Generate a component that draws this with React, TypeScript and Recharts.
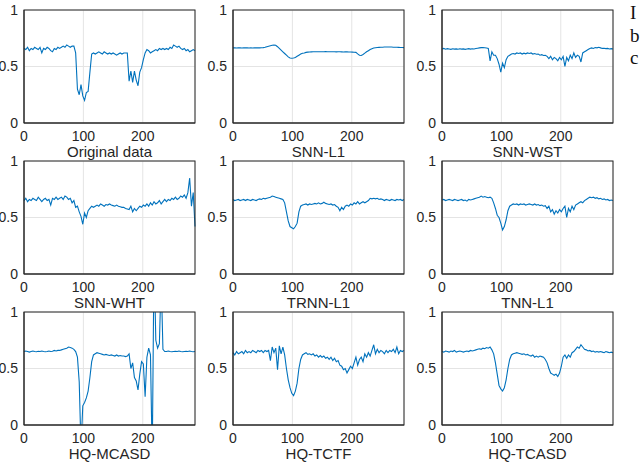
import { LineChart, Line, XAxis, YAxis, CartesianGrid } from 'recharts'

// sample index (every 3rd of 288 samples)
const X = [
  0, 3, 6, 9, 12, 15, 18, 21, 24, 27, 30, 33, 36, 39, 42, 45, 48, 51, 54, 57,
  60, 63, 66, 69, 72, 75, 78, 81, 84, 87, 90, 93, 96, 99, 102, 105, 108, 111, 114, 117,
  120, 123, 126, 129, 132, 135, 138, 141, 144, 147, 150, 153, 156, 159, 162, 165, 168, 171, 174, 177,
  180, 183, 186, 189, 192, 195, 198, 201, 204, 207, 210, 213, 216, 219, 222, 225, 228, 231, 234, 237,
  240, 243, 246, 249, 252, 255, 258, 261, 264, 267, 270, 273, 276, 279, 282, 285, 288,
]

const ORIGINAL = [
  0.66, 0.65, 0.67, 0.64, 0.66, 0.65, 0.67, 0.66, 0.65, 0.67,
  0.62, 0.66, 0.65, 0.67, 0.66, 0.64, 0.63, 0.66, 0.65, 0.67,
  0.66, 0.67, 0.68, 0.67, 0.69, 0.68, 0.67, 0.68, 0.68, 0.62,
  0.3, 0.25, 0.34, 0.24, 0.2, 0.27, 0.28, 0.45, 0.61, 0.62,
  0.61, 0.62, 0.63, 0.62, 0.61, 0.63, 0.62, 0.61, 0.62, 0.61,
  0.62, 0.61, 0.6, 0.61, 0.62, 0.61, 0.62, 0.62, 0.62, 0.37,
  0.46, 0.36, 0.46, 0.38, 0.33, 0.45, 0.49, 0.56, 0.62, 0.65,
  0.64, 0.62, 0.63, 0.64, 0.65, 0.64, 0.66, 0.65, 0.66, 0.65,
  0.66, 0.65, 0.67, 0.66, 0.69, 0.68, 0.67, 0.68, 0.66, 0.65,
  0.66, 0.64, 0.65, 0.63, 0.64, 0.65, 0.64,
]

const SNN_L1 = [
  0.665, 0.666, 0.664, 0.665, 0.665, 0.664, 0.665, 0.666, 0.665, 0.664,
  0.665, 0.664, 0.665, 0.665, 0.666, 0.665, 0.666, 0.667, 0.67, 0.675,
  0.68, 0.684, 0.688, 0.69, 0.688, 0.675, 0.66, 0.645, 0.63, 0.615,
  0.6, 0.585, 0.575, 0.573, 0.575, 0.58, 0.59, 0.6, 0.61, 0.617,
  0.62, 0.625, 0.627, 0.628, 0.629, 0.63, 0.63, 0.631, 0.63, 0.631,
  0.63, 0.631, 0.632, 0.631, 0.63, 0.631, 0.63, 0.63, 0.629, 0.63,
  0.63, 0.629, 0.628, 0.63, 0.629, 0.628, 0.628, 0.627, 0.626, 0.625,
  0.612, 0.6, 0.598, 0.606, 0.618, 0.63, 0.64, 0.65, 0.658, 0.663,
  0.666, 0.668, 0.669, 0.67, 0.671, 0.672, 0.672, 0.673, 0.672, 0.672,
  0.671, 0.67, 0.67, 0.669, 0.668, 0.668, 0.667,
]

const SNN_WST = [
  0.655, 0.66, 0.653, 0.658, 0.655, 0.652, 0.657, 0.654, 0.656, 0.653,
  0.657, 0.654, 0.656, 0.652, 0.655, 0.658, 0.654, 0.657, 0.655, 0.659,
  0.662, 0.665, 0.667, 0.668, 0.666, 0.664, 0.66, 0.55, 0.63, 0.6,
  0.6, 0.57, 0.52, 0.45, 0.53, 0.49, 0.56, 0.59, 0.6, 0.61,
  0.615, 0.61, 0.62, 0.615, 0.62, 0.61, 0.618, 0.612, 0.62, 0.615,
  0.62, 0.61, 0.615, 0.608, 0.61, 0.6, 0.605, 0.598, 0.6, 0.59,
  0.57, 0.59, 0.56, 0.58, 0.57, 0.55, 0.58, 0.56, 0.59, 0.5,
  0.58, 0.55, 0.6, 0.57, 0.62, 0.58, 0.6, 0.59, 0.54, 0.62,
  0.63, 0.64, 0.65, 0.66, 0.665, 0.66, 0.668, 0.665, 0.67, 0.665,
  0.66, 0.662, 0.658, 0.66, 0.655, 0.658, 0.655,
]

const SNN_WHT = [
  0.65, 0.67, 0.64, 0.66, 0.65, 0.67, 0.66, 0.65, 0.68, 0.66,
  0.64, 0.66, 0.67, 0.65, 0.66, 0.61, 0.67, 0.66, 0.68, 0.66,
  0.67, 0.68, 0.66, 0.69, 0.68, 0.66, 0.67, 0.63, 0.65, 0.59,
  0.6, 0.55, 0.51, 0.44, 0.54, 0.5, 0.56, 0.58, 0.6, 0.59,
  0.6, 0.61, 0.6, 0.62, 0.61, 0.6, 0.615, 0.61, 0.62, 0.61,
  0.605, 0.6, 0.61, 0.6, 0.595, 0.59, 0.59, 0.58, 0.575, 0.57,
  0.6, 0.55, 0.58, 0.56, 0.58, 0.6, 0.59, 0.61, 0.6, 0.62,
  0.6, 0.63, 0.61, 0.64, 0.62, 0.63, 0.65, 0.62, 0.64, 0.66,
  0.64, 0.66, 0.65, 0.67, 0.66, 0.68, 0.66, 0.67, 0.69, 0.68,
  0.7, 0.67, 0.72, 0.85, 0.6, 0.72, 0.42,
]

const TRNN_L1 = [
  0.66, 0.65, 0.655, 0.66, 0.65, 0.655, 0.66, 0.65, 0.66, 0.655,
  0.65, 0.66, 0.655, 0.65, 0.66, 0.665, 0.66, 0.67, 0.665, 0.67,
  0.675, 0.68, 0.69, 0.685, 0.68, 0.675, 0.67, 0.665, 0.66, 0.63,
  0.55, 0.47, 0.42, 0.41, 0.4, 0.42, 0.45, 0.55, 0.6, 0.61,
  0.615, 0.62, 0.61, 0.62, 0.615, 0.62, 0.625, 0.62, 0.63, 0.62,
  0.625, 0.635, 0.625, 0.62, 0.615, 0.62, 0.61, 0.615, 0.6, 0.59,
  0.56, 0.59, 0.57, 0.6, 0.61, 0.6, 0.62, 0.61, 0.63, 0.62,
  0.64, 0.62, 0.63, 0.64, 0.63, 0.64, 0.65, 0.67, 0.665, 0.67,
  0.665, 0.67, 0.66, 0.665, 0.66, 0.65, 0.66, 0.655, 0.65, 0.66,
  0.655, 0.65, 0.66, 0.655, 0.66, 0.65, 0.66,
]

const TNN_L1 = [
  0.655, 0.66, 0.65, 0.655, 0.66, 0.655, 0.65, 0.66, 0.655, 0.65,
  0.655, 0.66, 0.65, 0.655, 0.645, 0.66, 0.655, 0.66, 0.665, 0.67,
  0.675, 0.68, 0.69, 0.68, 0.685, 0.68, 0.675, 0.68, 0.67, 0.63,
  0.58, 0.52, 0.5, 0.45, 0.39, 0.42, 0.48, 0.56, 0.6, 0.61,
  0.62, 0.615, 0.62, 0.61, 0.62, 0.615, 0.62, 0.61, 0.615, 0.62,
  0.615, 0.61, 0.62, 0.61, 0.615, 0.605, 0.61, 0.6, 0.605, 0.58,
  0.6, 0.55, 0.57, 0.53, 0.56, 0.54, 0.57, 0.55, 0.58, 0.6,
  0.5, 0.58, 0.55, 0.6, 0.57, 0.61, 0.62, 0.63, 0.64, 0.63,
  0.65, 0.66, 0.67, 0.68, 0.675, 0.68, 0.67, 0.675, 0.665, 0.67,
  0.66, 0.665, 0.655, 0.66, 0.65, 0.655, 0.65,
]

const HQ_MCASD = [
  0.65, 0.655, 0.65, 0.645, 0.65, 0.655, 0.65, 0.648, 0.652, 0.65,
  0.655, 0.65, 0.648, 0.65, 0.655, 0.65, 0.652, 0.66, 0.655, 0.66,
  0.66, 0.665, 0.67, 0.675, 0.68, 0.69, 0.685, 0.68, 0.67, 0.65,
  0.6, 0.38, -0.2, 0.17, 0.2, 0.24, 0.3, 0.42, 0.56, 0.62,
  0.63, 0.64, 0.635, 0.63, 0.625, 0.62, 0.625, 0.62, 0.615, 0.62,
  0.615, 0.61, 0.62, 0.61, 0.615, 0.61, 0.61, 0.605, 0.61, 0.63,
  0.5, 0.55, 0.42, 0.39, 0.31, 0.45, 0.56, 0.54, 0.25, 0.6,
  0.68, 0.62, -0.3, 1.5, 0.75, 0.68, 0.72, 1.3, 0.67, 0.65,
  0.65, 0.655, 0.65, 0.648, 0.65, 0.652, 0.65, 0.655, 0.65, 0.648,
  0.65, 0.652, 0.65, 0.655, 0.65, 0.648, 0.65,
]

const HQ_TCTF = [
  0.64, 0.62, 0.65, 0.63, 0.64, 0.65, 0.63, 0.66, 0.64, 0.65,
  0.64, 0.66, 0.65, 0.64, 0.66, 0.65, 0.66, 0.64, 0.66, 0.65,
  0.66, 0.57, 0.69, 0.64, 0.68, 0.49, 0.7, 0.63, 0.69, 0.62,
  0.5, 0.4, 0.33, 0.28, 0.26, 0.3, 0.37, 0.5, 0.58, 0.62,
  0.63, 0.64, 0.625, 0.63, 0.62, 0.63, 0.61, 0.62, 0.6, 0.615,
  0.6, 0.61, 0.59, 0.6, 0.58, 0.6, 0.57, 0.59, 0.56, 0.57,
  0.53, 0.52, 0.49, 0.5, 0.46, 0.49, 0.52, 0.5, 0.55, 0.6,
  0.53, 0.58, 0.6, 0.56, 0.63, 0.6, 0.64, 0.61, 0.66, 0.71,
  0.63, 0.67, 0.64, 0.66, 0.65, 0.63, 0.66, 0.64, 0.66, 0.65,
  0.67, 0.64, 0.69, 0.63, 0.66, 0.65, 0.66,
]

const HQ_TCASD = [
  0.65, 0.645, 0.655, 0.65, 0.645, 0.655, 0.65, 0.66, 0.645, 0.65,
  0.655, 0.65, 0.645, 0.65, 0.655, 0.65, 0.66, 0.655, 0.66, 0.665,
  0.67, 0.675, 0.67, 0.68, 0.675, 0.685, 0.68, 0.69, 0.665, 0.63,
  0.55, 0.45, 0.35, 0.32, 0.3, 0.33, 0.4, 0.5, 0.58, 0.62,
  0.63, 0.635, 0.64, 0.635, 0.63, 0.625, 0.63, 0.62, 0.625, 0.615,
  0.61, 0.62, 0.6, 0.61, 0.6, 0.61, 0.605, 0.6, 0.58, 0.55,
  0.5, 0.46, 0.45, 0.44, 0.45, 0.43, 0.46, 0.52, 0.6, 0.62,
  0.59, 0.62, 0.6, 0.64, 0.65, 0.67, 0.69, 0.68, 0.71, 0.69,
  0.67, 0.665, 0.655, 0.66, 0.65, 0.655, 0.645, 0.65, 0.645, 0.65,
  0.645, 0.64, 0.65, 0.645, 0.64, 0.645, 0.64,
]

const TITLES = [
  'Original data', 'SNN-L1', 'SNN-WST',
  'SNN-WHT', 'TRNN-L1', 'TNN-L1',
  'HQ-MCASD', 'HQ-TCTF', 'HQ-TCASD',
]
const SERIES = [ORIGINAL, SNN_L1, SNN_WST, SNN_WHT, TRNN_L1, TNN_L1, HQ_MCASD, HQ_TCTF, HQ_TCASD]

const X_TICKS = [0, 100, 200]
const Y_TICKS = [0, 0.5, 1]

const COL_LEFT = [24, 233, 442]
const ROW_TOP = [10, 161, 312]
const PLOT_W = 171
const PLOT_H = 113
const PAD = 10
const AXIS_COLOR = '#262626'
const FONT = '"Liberation Sans", Arial, Helvetica, sans-serif'
const SERIF = '"Liberation Serif", serif'

function Panel({ values, left, top }: { values: number[]; left: number; top: number }) {
  const data = X.map((x, i) => ({ x, y: values[i] }))
  const tick = { fontSize: 14, fill: AXIS_COLOR, fontFamily: FONT }
  return (
    <div style={{ position: 'absolute', left: left - 40, top: top - PAD }}>
      <LineChart width={PLOT_W + 40 + PAD} height={PLOT_H + PAD + 30} data={data} margin={{ top: PAD, right: PAD, bottom: 0, left: 0 }}>
        <CartesianGrid stroke="#e4e4e4" />
        <XAxis
          dataKey="x"
          type="number"
          domain={[0, 288]}
          ticks={X_TICKS}
          interval={0}
          height={30}
          tickLine={false}
          tickSize={0}
          tickMargin={8}
          tick={tick}
          axisLine={{ stroke: AXIS_COLOR }}
        />
        <YAxis
          domain={[0, 1]}
          ticks={Y_TICKS}
          allowDataOverflow
          interval={0}
          width={40}
          tickLine={false}
          tickSize={0}
          tickMargin={6}
          tick={tick}
          axisLine={{ stroke: AXIS_COLOR }}
        />
        <Line dataKey="y" type="linear" stroke="#0072BD" strokeWidth={1.1} dot={false} isAnimationActive={false} />
      </LineChart>
    </div>
  )
}

export default function App() {
  return (
    <div style={{ position: 'absolute', left: 0, top: 0, width: 640, height: 462, background: '#fff', overflow: 'hidden' }}>
      {SERIES.map((values, i) => (
        <Panel key={TITLES[i]} values={values} left={COL_LEFT[i % 3]} top={ROW_TOP[Math.floor(i / 3)]} />
      ))}
      <svg width={640} height={462} style={{ position: 'absolute', left: 0, top: 0, pointerEvents: 'none' }}>
        {TITLES.map((t, i) => (
          <g key={t}>
            <rect
              x={COL_LEFT[i % 3]}
              y={ROW_TOP[Math.floor(i / 3)]}
              width={PLOT_W}
              height={PLOT_H}
              fill="none"
              stroke={AXIS_COLOR}
            />
            <text
              x={COL_LEFT[i % 3] + PLOT_W / 2}
              y={ROW_TOP[Math.floor(i / 3)] + PLOT_H + 34}
              textAnchor="middle"
              style={{ fontSize: 15, fontFamily: FONT, fill: AXIS_COLOR }}
            >
              {t}
            </text>
          </g>
        ))}
        <text x={630} y={19} style={{ fontSize: 19, fontFamily: SERIF, fill: '#111' }}>I</text>
        <text x={630} y={42} style={{ fontSize: 19, fontFamily: SERIF, fill: '#111' }}>b</text>
        <text x={630} y={64} style={{ fontSize: 19, fontFamily: SERIF, fill: '#111' }}>c</text>
      </svg>
    </div>
  )
}
